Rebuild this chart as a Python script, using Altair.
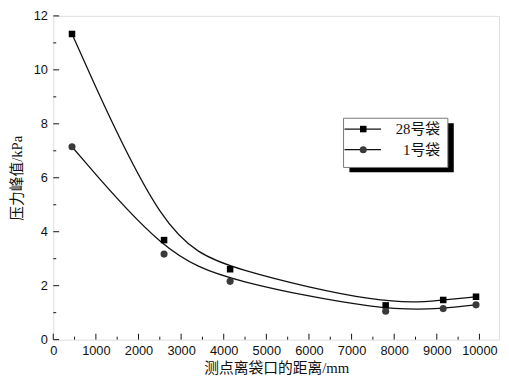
import altair as alt
import pandas as pd

# ---- data ----
distance = [440, 2600, 4150, 7800, 9150, 9920]
bag28 = [11.33, 3.69, 2.61, 1.27, 1.47, 1.59]
bag1 = [7.15, 3.17, 2.16, 1.05, 1.15, 1.29]
series_names = ["28号袋", "1号袋"]

x_major = [0, 1000, 2000, 3000, 4000, 5000, 6000, 7000, 8000, 9000, 10000]
x_minor = [500, 1500, 2500, 3500, 4500, 5500, 6500, 7500, 8500, 9500]
y_major = [0, 2, 4, 6, 8, 10, 12]
y_minor = [1, 3, 5, 7, 9, 11]

x_title = "测点离袋口的距离/mm"
y_title = "压力峰值/kPa"

W, H = 453, 329
TOP = 5
SERIF = "Liberation Serif, Noto Sans CJK SC"
SANS = "Liberation Sans, Arial"

df = pd.DataFrame({
    "distance": distance * 2,
    "value": bag28 + bag1,
    "series": [series_names[0]] * len(distance) + [series_names[1]] * len(distance),
})

xs = alt.Scale(domain=[0, 10460], nice=False, zero=False)
ys = alt.Scale(domain=[0, 12], nice=False, zero=False)

x_enc = alt.X("distance:Q", scale=xs, title=x_title,
              axis=alt.Axis(values=x_major, format="d", ticks=False, tickSize=0, domain=False, grid=False,
                            labelFont=SANS, labelFontSize=13, labelColor="#111",
                            labelPadding=5, labelFlush=False,
                            titleFont=SERIF, titleFontSize=15, titleFontWeight="normal",
                            titleColor="#111", titlePadding=3))
y_enc = alt.Y("value:Q", scale=ys, title=y_title,
              axis=alt.Axis(values=y_major, format="d", ticks=False, tickSize=0, domain=False, grid=False,
                            labelFont=SANS, labelFontSize=13, labelColor="#111",
                            labelPadding=6, labelFlush=False,
                            titleFont=SERIF, titleFontSize=15, titleFontWeight="normal",
                            titleColor="#111", titlePadding=9))

base = alt.Chart(df)

line28 = base.transform_filter(alt.datum.series == series_names[0]).mark_line(
    interpolate="basis", color="#111", strokeWidth=1.3).encode(x=x_enc, y=y_enc)
line1 = base.transform_filter(alt.datum.series == series_names[1]).mark_line(
    interpolate="basis", color="#111", strokeWidth=1.3).encode(x="distance:Q", y="value:Q")
pts28 = base.transform_filter(alt.datum.series == series_names[0]).mark_point(
    shape="square", filled=True, size=44, color="#000", opacity=1).encode(x="distance:Q", y="value:Q")
pts1 = base.transform_filter(alt.datum.series == series_names[1]).mark_point(
    shape="circle", filled=True, size=52, color="#3a3a3a", opacity=1).encode(x="distance:Q", y="value:Q")

# inward axis ticks
xt_major = alt.Chart(pd.DataFrame({"t": x_major})).mark_rule(color="#111", strokeWidth=1).encode(
    x=alt.X("t:Q", scale=xs), y=alt.value(H), y2=alt.value(H - 6))
xt_minor = alt.Chart(pd.DataFrame({"t": x_minor})).mark_rule(color="#111", strokeWidth=1).encode(
    x=alt.X("t:Q", scale=xs), y=alt.value(H), y2=alt.value(H - 3))
yt_major = alt.Chart(pd.DataFrame({"t": y_major})).mark_rule(color="#111", strokeWidth=1).encode(
    y=alt.Y("t:Q", scale=ys), x=alt.value(0), x2=alt.value(6))
yt_minor = alt.Chart(pd.DataFrame({"t": y_minor})).mark_rule(color="#111", strokeWidth=1).encode(
    y=alt.Y("t:Q", scale=ys), x=alt.value(0), x2=alt.value(3))

# manual legend (pixel positions inside the plot area)
LY1, LY2 = 120 - TOP, 141 - TOP
one = pd.DataFrame({"a": [0]})
leg_shadow = alt.Chart(one).mark_rect(fill="#000").encode(
    x=alt.value(301), x2=alt.value(407), y=alt.value(114 - TOP), y2=alt.value(164 - TOP))
leg_box = alt.Chart(one).mark_rect(fill="white", stroke="#777", strokeWidth=1).encode(
    x=alt.value(295), x2=alt.value(401), y=alt.value(109 - TOP), y2=alt.value(159 - TOP))
leg_l1 = alt.Chart(one).mark_rule(color="#111", strokeWidth=1.3).encode(
    x=alt.value(296), x2=alt.value(333), y=alt.value(LY1))
leg_l2 = alt.Chart(one).mark_rule(color="#111", strokeWidth=1.3).encode(
    x=alt.value(296), x2=alt.value(333), y=alt.value(LY2))
leg_p1 = alt.Chart(one).mark_point(shape="square", filled=True, size=44, color="#000", opacity=1).encode(
    x=alt.value(315), y=alt.value(LY1))
leg_p2 = alt.Chart(one).mark_point(shape="circle", filled=True, size=52, color="#3a3a3a", opacity=1).encode(
    x=alt.value(315), y=alt.value(LY2))
leg_t1 = alt.Chart(one).mark_text(align="right", baseline="middle", font=SERIF, fontSize=15, color="#111").encode(
    x=alt.value(393), y=alt.value(LY1), text=alt.value(series_names[0]))
leg_t2 = alt.Chart(one).mark_text(align="right", baseline="middle", font=SERIF, fontSize=15, color="#111").encode(
    x=alt.value(393), y=alt.value(LY2), text=alt.value(series_names[1]))

chart = alt.layer(
    line28, line1, pts28, pts1,
    xt_major, xt_minor, yt_major, yt_minor,
    leg_shadow, leg_box, leg_l1, leg_l2, leg_p1, leg_p2, leg_t1, leg_t2,
).properties(
    width=W, height=H,
    autosize=alt.AutoSizeParams(type="none"),
    padding={"left": 46, "top": TOP, "right": 2, "bottom": 39},
).configure_view(stroke="#111", strokeWidth=1).configure(background="white")

chart.save("out.html", embed_options={"renderer": "svg", "actions": False})
